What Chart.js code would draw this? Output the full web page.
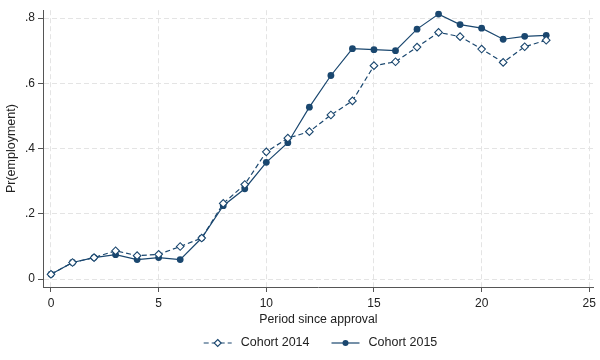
<!DOCTYPE html>
<html>
<head>
<meta charset="utf-8">
<script src="https://cdn.jsdelivr.net/npm/chart.js@4"></script>
<style>
  html, body { margin: 0; padding: 0; background: #fff; }
  #wrap { width: 600px; height: 360px; }
</style>
</head>
<body>
<div id="wrap"><canvas id="chart" width="600" height="360"></canvas></div>
<script>
const periods = [0,1,2,3,4,5,6,7,8,9,10,11,12,13,14,15,16,17,18,19,20,21,22,23];
const cohort2014 = [0.015,0.051,0.066,0.087,0.072,0.076,0.100,0.126,0.232,0.290,0.390,0.432,0.452,0.503,0.546,0.654,0.666,0.711,0.756,0.743,0.705,0.664,0.712,0.732];
const cohort2015 = [0.015,0.051,0.066,0.075,0.060,0.066,0.060,0.126,0.225,0.277,0.358,0.418,0.527,0.624,0.706,0.703,0.700,0.766,0.812,0.780,0.769,0.735,0.744,0.747];
const xTicks = [0,5,10,15,20,25];
const yTicks = [0,0.2,0.4,0.6,0.8];

const navy = '#1a476f';
const font = 'Liberation Sans, Arial, sans-serif';

// Stata-style legend under the axis title: line sample with marker, then label
const bottomLegend = {
  id: 'bottomLegend',
  afterDraw(chart) {
    const g = chart.ctx;
    const area = chart.chartArea;
    const sets = chart.data.datasets;
    g.save();
    g.font = '12.5px ' + font;
    g.textBaseline = 'middle';
    const lineW = 28, gap = 9, between = 22;
    const widths = sets.map(ds => lineW + gap + g.measureText(ds.label).width);
    const total = widths.reduce((a, b) => a + b, 0) + between * (sets.length - 1);
    let x = (43 + 598) / 2 - total / 2;
    const y = 343;
    sets.forEach((ds, i) => {
      g.strokeStyle = ds.borderColor;
      g.lineWidth = ds.borderWidth;
      g.setLineDash(ds.borderDash || []);
      g.beginPath(); g.moveTo(x, y); g.lineTo(x + lineW, y); g.stroke();
      g.setLineDash([]);
      const cx = x + lineW / 2;
      g.beginPath();
      if (ds.pointStyle === 'rectRot') {
        g.moveTo(cx, y - 3.5); g.lineTo(cx + 3.5, y); g.lineTo(cx, y + 3.5); g.lineTo(cx - 3.5, y); g.closePath();
        g.fillStyle = ds.pointBackgroundColor; g.fill();
        g.lineWidth = ds.pointBorderWidth; g.stroke();
      } else {
        g.arc(cx, y, 3, 0, Math.PI * 2);
        g.fillStyle = ds.pointBackgroundColor; g.fill();
      }
      g.fillStyle = '#222';
      g.fillText(ds.label, x + lineW + gap, y);
      x += widths[i] + between;
    });
    g.restore();
  }
};

const ctx = document.getElementById('chart').getContext('2d');
new Chart(ctx, {
  type: 'line',
  data: {
    datasets: [
      {
        label: 'Cohort 2014',
        data: periods.map((p, i) => ({ x: p, y: cohort2014[i] })),
        borderColor: navy,
        borderWidth: 1.2,
        borderDash: [5, 3],
        pointStyle: 'rectRot',
        pointRadius: 3.8,
        pointBackgroundColor: '#fff',
        pointBorderColor: navy,
        pointBorderWidth: 1.1,
        tension: 0
      },
      {
        label: 'Cohort 2015',
        data: periods.map((p, i) => ({ x: p, y: cohort2015[i] })),
        borderColor: navy,
        borderWidth: 1.2,
        pointStyle: 'circle',
        pointRadius: 3.4,
        pointBackgroundColor: navy,
        pointBorderColor: navy,
        pointBorderWidth: 0,
        tension: 0
      }
    ]
  },
  plugins: [bottomLegend],
  options: {
    responsive: false,
    animation: false,
    layout: { padding: { top: 0, right: 2, left: 0, bottom: 33 } },
    plugins: {
      tooltip: { enabled: false },
      legend: { display: false }
    },
    scales: {
      x: {
        type: 'linear',
        min: -0.371,
        max: 25.21,
        afterBuildTicks(scale) { scale.ticks = xTicks.map(v => ({ value: v })); },
        afterFit(scale) { scale.height = 40; },
        ticks: { color: '#222', font: { family: font, size: 12 }, padding: 4, maxRotation: 0 },
        grid: { color: '#e4e4e4', tickColor: '#555', tickLength: 5, lineWidth: 1 },
        border: { color: '#555', width: 1, dash: [5, 3] },
        title: { display: true, text: 'Period since approval', color: '#222', font: { family: font, size: 12.3 }, padding: 0 }
      },
      y: {
        min: -0.024,
        max: 0.824,
        afterBuildTicks(scale) { scale.ticks = yTicks.map(v => ({ value: v })); },
        afterFit(scale) { scale.width = 43; },
        ticks: {
          color: '#222',
          font: { family: font, size: 12 },
          padding: 3,
          callback: v => v === 0 ? '0' : v.toFixed(1).replace(/^0/, '')
        },
        grid: { color: '#e4e4e4', tickColor: '#555', tickLength: 5, lineWidth: 1 },
        border: { color: '#555', width: 1, dash: [5, 3] },
        title: { display: true, text: 'Pr(employment)', color: '#222', font: { family: font, size: 12.5 }, padding: { top: 4, bottom: 0 } }
      }
    }
  }
});
</script>
</body>
</html>
